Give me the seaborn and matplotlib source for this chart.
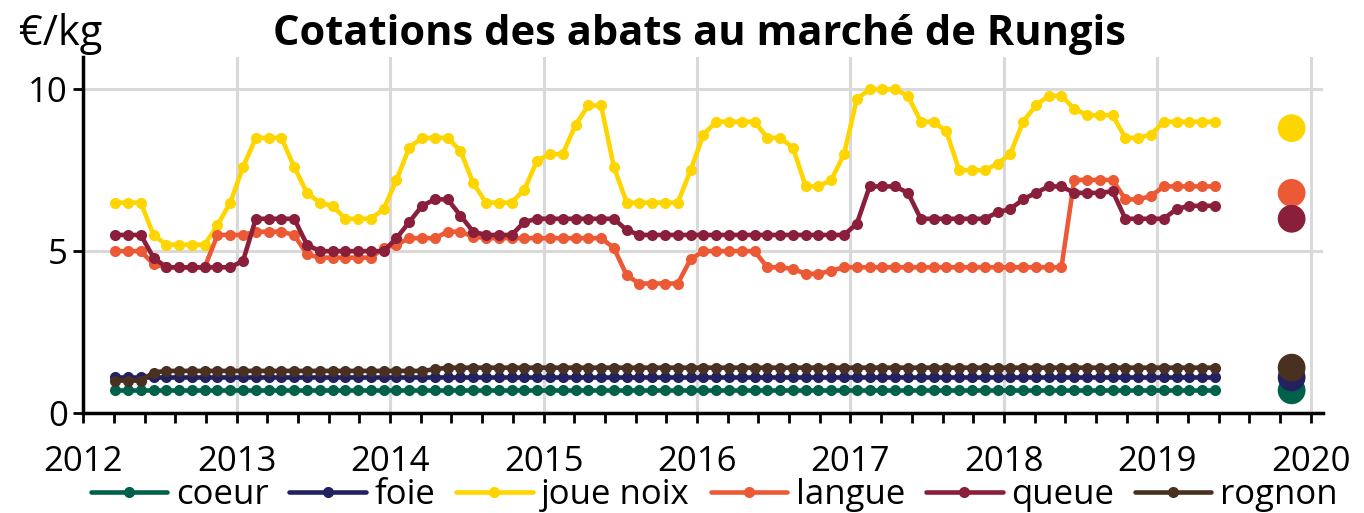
import numpy as np
import pandas as pd
import seaborn as sns
import matplotlib.pyplot as plt
from matplotlib.ticker import MultipleLocator

# mois de cotation : mars 2012 -> mai 2019 (milieu de mois)
mois = pd.date_range("2012-03-01", "2019-05-01", freq="MS")

coeur = [0.7, 0.7, 0.7, 0.7, 0.7, 0.7, 0.7, 0.7, 0.7, 0.7,
         0.7, 0.7, 0.7, 0.7, 0.7, 0.7, 0.7, 0.7, 0.7, 0.7, 0.7, 0.7,
         0.7, 0.7, 0.7, 0.7, 0.7, 0.7, 0.7, 0.7, 0.7, 0.7, 0.7, 0.7,
         0.7, 0.7, 0.7, 0.7, 0.7, 0.7, 0.7, 0.7, 0.7, 0.7, 0.7, 0.7,
         0.7, 0.7, 0.7, 0.7, 0.7, 0.7, 0.7, 0.7, 0.7, 0.7, 0.7, 0.7,
         0.7, 0.7, 0.7, 0.7, 0.7, 0.7, 0.7, 0.7, 0.7, 0.7, 0.7, 0.7,
         0.7, 0.7, 0.7, 0.7, 0.7, 0.7, 0.7, 0.7, 0.7, 0.7, 0.7, 0.7,
         0.7, 0.7, 0.7, 0.7, 0.7]
foie = [1.1, 1.1, 1.1, 1.1, 1.1, 1.1, 1.1, 1.1, 1.1, 1.1,
        1.1, 1.1, 1.1, 1.1, 1.1, 1.1, 1.1, 1.1, 1.1, 1.1, 1.1, 1.1,
        1.1, 1.1, 1.1, 1.1, 1.1, 1.1, 1.1, 1.1, 1.1, 1.1, 1.1, 1.1,
        1.1, 1.1, 1.1, 1.1, 1.1, 1.1, 1.1, 1.1, 1.1, 1.1, 1.1, 1.1,
        1.1, 1.1, 1.1, 1.1, 1.1, 1.1, 1.1, 1.1, 1.1, 1.1, 1.1, 1.1,
        1.1, 1.1, 1.1, 1.1, 1.1, 1.1, 1.1, 1.1, 1.1, 1.1, 1.1, 1.1,
        1.1, 1.1, 1.1, 1.1, 1.1, 1.1, 1.1, 1.1, 1.1, 1.1, 1.1, 1.1,
        1.1, 1.1, 1.1, 1.1, 1.1]
joue_noix = [6.5, 6.5, 6.5, 5.5, 5.2, 5.2, 5.2, 5.2, 5.8, 6.5,
             7.6, 8.5, 8.5, 8.5, 7.6, 6.8, 6.5, 6.4, 6.0, 6.0, 6.0, 6.3,
             7.2, 8.2, 8.5, 8.5, 8.5, 8.1, 7.1, 6.5, 6.5, 6.5, 6.9, 7.8,
             8.0, 8.0, 8.9, 9.5, 9.5, 7.6, 6.5, 6.5, 6.5, 6.5, 6.5, 7.5,
             8.6, 9.0, 9.0, 9.0, 9.0, 8.5, 8.5, 8.2, 7.0, 7.0, 7.2, 8.0,
             9.7, 10.0, 10.0, 10.0, 9.8, 9.0, 9.0, 8.7, 7.5, 7.5, 7.5, 7.7,
             8.0, 9.0, 9.5, 9.8, 9.8, 9.4, 9.2, 9.2, 9.2, 8.5, 8.5, 8.6,
             9.0, 9.0, 9.0, 9.0, 9.0]
langue = [5.0, 5.0, 5.0, 4.6, 4.5, 4.5, 4.5, 4.5, 5.5, 5.5,
          5.5, 5.6, 5.6, 5.6, 5.5, 4.9, 4.8, 4.8, 4.8, 4.8, 4.8, 5.1,
          5.2, 5.4, 5.4, 5.4, 5.6, 5.6, 5.45, 5.4, 5.4, 5.4, 5.4, 5.4,
          5.4, 5.4, 5.4, 5.4, 5.4, 5.1, 4.25, 4.0, 4.0, 4.0, 4.0, 4.75,
          5.0, 5.0, 5.0, 5.0, 5.0, 4.5, 4.5, 4.45, 4.3, 4.3, 4.4, 4.5,
          4.5, 4.5, 4.5, 4.5, 4.5, 4.5, 4.5, 4.5, 4.5, 4.5, 4.5, 4.5,
          4.5, 4.5, 4.5, 4.5, 4.5, 7.2, 7.2, 7.2, 7.2, 6.6, 6.6, 6.7,
          7.0, 7.0, 7.0, 7.0, 7.0]
queue = [5.5, 5.5, 5.5, 4.8, 4.5, 4.5, 4.5, 4.5, 4.5, 4.5,
         4.7, 6.0, 6.0, 6.0, 6.0, 5.2, 5.0, 5.0, 5.0, 5.0, 5.0, 5.0,
         5.4, 5.9, 6.4, 6.6, 6.6, 6.1, 5.6, 5.5, 5.5, 5.5, 5.9, 6.0,
         6.0, 6.0, 6.0, 6.0, 6.0, 6.0, 5.65, 5.5, 5.5, 5.5, 5.5, 5.5,
         5.5, 5.5, 5.5, 5.5, 5.5, 5.5, 5.5, 5.5, 5.5, 5.5, 5.5, 5.5,
         5.85, 7.0, 7.0, 7.0, 6.8, 6.0, 6.0, 6.0, 6.0, 6.0, 6.0, 6.2,
         6.3, 6.6, 6.8, 7.0, 7.0, 6.8, 6.8, 6.8, 6.85, 6.0, 6.0, 6.0,
         6.0, 6.3, 6.4, 6.4, 6.4]
rognon = [1.0, 1.0, 1.0, 1.25, 1.3, 1.3, 1.3, 1.3, 1.3, 1.3,
          1.3, 1.3, 1.3, 1.3, 1.3, 1.3, 1.3, 1.3, 1.3, 1.3, 1.3, 1.3,
          1.3, 1.3, 1.3, 1.35, 1.4, 1.4, 1.4, 1.4, 1.4, 1.4, 1.4, 1.4,
          1.4, 1.4, 1.4, 1.4, 1.4, 1.4, 1.4, 1.4, 1.4, 1.4, 1.4, 1.4,
          1.4, 1.4, 1.4, 1.4, 1.4, 1.4, 1.4, 1.4, 1.4, 1.4, 1.4, 1.4,
          1.4, 1.4, 1.4, 1.4, 1.4, 1.4, 1.4, 1.4, 1.4, 1.4, 1.4, 1.4,
          1.4, 1.4, 1.4, 1.4, 1.4, 1.4, 1.4, 1.4, 1.4, 1.4, 1.4, 1.4,
          1.4, 1.4, 1.4, 1.4, 1.4]

# point isolé de novembre 2019
mois_nov19 = pd.Timestamp("2019-11-01")
nov19 = {"coeur": 0.7, "foie": 1.1, "joue noix": 8.8,
         "langue": 6.8, "queue": 6.0, "rognon": 1.4}

series = {"coeur": coeur, "foie": foie, "joue noix": joue_noix,
          "langue": langue, "queue": queue, "rognon": rognon}
couleurs = {"coeur": "#00614a", "foie": "#222260", "joue noix": "#ffd500",
            "langue": "#ec5a35", "queue": "#8a1f3b", "rognon": "#4a3020"}


def annee_dec(d):
    return d.year + (d.month - 0.5) / 12


df = pd.concat([pd.DataFrame({"x": [annee_dec(d) for d in mois], "valeur": v, "serie": k})
                for k, v in series.items()], ignore_index=True)
df_nov = pd.DataFrame({"x": annee_dec(mois_nov19), "valeur": list(nov19.values()),
                       "serie": list(nov19.keys())})

sns.set_style("white")
plt.rcParams["font.family"] = ["Open Sans", "DejaVu Sans"]
plt.rcParams["text.color"] = "black"
plt.rcParams["xtick.color"] = "black"
plt.rcParams["ytick.color"] = "black"

fig = plt.figure(figsize=(13.64, 5.13), dpi=100)
ax = fig.add_axes([0.061, 0.195, 0.909, 0.694])

ax.grid(True, which="major", color="#d9d9d9", lw=2.2, zorder=0)
sns.lineplot(data=df, x="x", y="valeur", hue="serie", palette=couleurs,
             marker="o", markersize=8, markeredgewidth=0, linewidth=3.3,
             ax=ax, zorder=3)
sns.scatterplot(data=df_nov, x="x", y="valeur", hue="serie", palette=couleurs,
                s=400, linewidth=0, legend=False, ax=ax, zorder=4)

ax.set_xlim(2012, 2020.08)
ax.set_ylim(0, 11)
ax.xaxis.set_major_locator(MultipleLocator(1))
ax.xaxis.set_minor_locator(MultipleLocator(0.2))
ax.set_yticks([0, 5, 10])
ax.set_xticks(range(2012, 2021))
ax.tick_params(axis="both", which="both", direction="out", length=7, width=2,
               labelsize=25, bottom=True, left=True)
ax.tick_params(axis="x", pad=16)
ax.tick_params(axis="y", pad=4)
ax.set_xlabel("")
ax.set_ylabel("")
sns.despine(ax=ax)
for s in ["left", "bottom"]:
    ax.spines[s].set_linewidth(2.5)
    ax.spines[s].set_color("black")

handles, labels = ax.get_legend_handles_labels()
ax.legend(handles, labels, ncol=6, loc="center", bbox_to_anchor=(0.509, -0.23),
          frameon=False, fontsize=25, handlelength=2.2, columnspacing=0.6,
          handletextpad=0.25, borderaxespad=0, borderpad=0)

fig.text(0.513, 0.933, "Cotations des abats au marché de Rungis", ha="center",
         va="center", fontsize=30, fontweight="bold")
fig.text(0.014, 0.933, "€/kg", ha="left", va="center", fontsize=30)

fig.savefig("out.png", dpi=100)
